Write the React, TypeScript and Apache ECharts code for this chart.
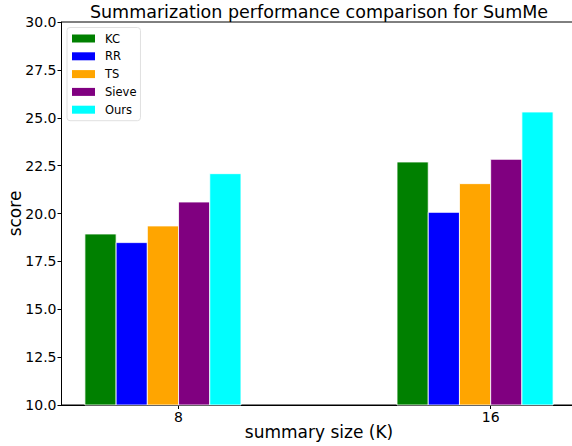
import React, { useEffect, useRef } from "react";
import * as echarts from "echarts";

const categories = ["8", "16"];
const seriesNames = ["KC", "RR", "TS", "Sieve", "Ours"];
const seriesColors = ["#008000", "#0000ff", "#ffa500", "#800080", "#00ffff"];
const kcValues = [18.93, 22.69];
const rrValues = [18.48, 20.06];
const tsValues = [19.35, 21.56];
const sieveValues = [20.6, 22.83];
const oursValues = [22.08, 25.3];
const allValues = [kcValues, rrValues, tsValues, sieveValues, oursValues];
const yTicks = [10, 12.5, 15, 17.5, 20, 22.5, 25, 27.5, 30];

const BAR_W = 0.1;
const FONT = "DejaVu Sans";

export default function App() {
  const ref = useRef<HTMLDivElement>(null);
  useEffect(() => {
    document.body.style.margin = "0";
    document.body.style.overflow = "hidden";
    const chart = echarts.init(ref.current!, null, { renderer: "svg" });
    const series = seriesNames.map((name, si) => ({
      type: "custom",
      name,
      itemStyle: { color: seriesColors[si] },
      encode: { x: 0, y: 1 },
      data: allValues[si].map((v, gi) => [gi + (si - 2.5) * BAR_W, v]),
      renderItem: (params: any, api: any) => {
        const x = api.value(0);
        const y = api.value(1);
        const p0 = api.coord([x - BAR_W / 2, y]);
        const p1 = api.coord([x + BAR_W / 2, yTicks[0]]);
        return {
          type: "rect",
          shape: { x: p0[0], y: p0[1], width: p1[0] - p0[0], height: p1[1] - p0[1] },
          style: { fill: seriesColors[si], stroke: "rgba(255,255,255,0.8)", lineWidth: 1 },
        };
      },
    }));
    chart.setOption({
      animation: false,
      textStyle: { fontFamily: FONT },
      graphic: [
        {
          type: "text",
          x: 319,
          y: 12,
          style: {
            text: "Summarization performance comparison for SumMe",
            textAlign: "center",
            textVerticalAlign: "middle",
            font: `17.5px "${FONT}"`,
            fill: "#000",
          },
        },
      ],
      grid: {
        left: 61.5,
        top: 22,
        width: 515,
        height: 383,
        outerBoundsMode: "none",
        containLabel: false,
        show: true,
        borderColor: "#000",
        borderWidth: 1,
        backgroundColor: "transparent",
      },
      legend: {
        orient: "vertical",
        left: 67,
        top: 27.5,
        icon: "rect",
        itemWidth: 23,
        itemHeight: 8,
        itemGap: 5.8,
        padding: [5, 4, 5, 5],
        backgroundColor: "rgba(255,255,255,0.8)",
        borderColor: "#e0e0e0",
        borderWidth: 1,
        borderRadius: 3,
        textStyle: { fontFamily: FONT, fontSize: 11.5, color: "#000", lineHeight: 12, padding: [0, 0, 0, 5] },
        data: seriesNames.map((n, i) => ({ name: n, itemStyle: { color: seriesColors[i] } })),
      },
      xAxis: {
        type: "value",
        min: -0.375,
        max: 1.275,
        name: "summary size (K)",
        nameLocation: "middle",
        nameGap: 18,
        nameMoveOverlap: false,
        nameTextStyle: { fontFamily: FONT, fontSize: 17, color: "#000" },
        axisLine: { show: true, onZero: false, lineStyle: { color: "#000", width: 1 } },
        axisTick: { show: true, customValues: [0, 1], length: 4, lineStyle: { color: "#000" } },
        axisLabel: {
          customValues: [0, 1],
          formatter: (v: number) => categories[Math.round(v)] ?? "",
          fontFamily: FONT,
          fontSize: 14,
          color: "#000",
          margin: 5,
        },
        splitLine: { show: false },
      },
      yAxis: {
        type: "value",
        min: yTicks[0],
        max: yTicks[yTicks.length - 1],
        interval: 2.5,
        name: "score",
        nameLocation: "middle",
        nameGap: 38,
        nameMoveOverlap: false,
        nameTextStyle: { fontFamily: FONT, fontSize: 17, color: "#000" },
        axisLine: { show: true, onZero: false, lineStyle: { color: "#000", width: 1 } },
        axisTick: { show: true, length: 4, lineStyle: { color: "#000" } },
        axisLabel: {
          formatter: (v: number) => v.toFixed(1),
          fontFamily: FONT,
          fontSize: 14,
          color: "#000",
          margin: 5,
        },
        splitLine: { show: false },
      },
      series,
    });
    return () => chart.dispose();
  }, []);
  return (
    <div style={{ width: 572, height: 446, overflow: "hidden", position: "relative" }}>
      <div ref={ref} style={{ width: 572, height: 446 }} />
    </div>
  );
}
